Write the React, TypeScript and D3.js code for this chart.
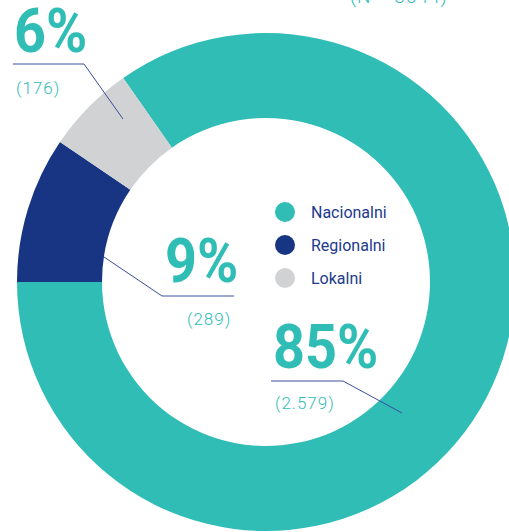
import React from "react";
import * as d3 from "d3";

const categories = ["Nacionalni", "Regionalni", "Lokalni"];
const counts = [2579, 289, 176];
const percents = ["85%", "9%", "6%"];
const countLabels = ["(2.579)", "(289)", "(176)"];
const totalLabel = "(N = 3044)";
const colors = ["#2fbdb6", "#173583", "#d1d2d4"];

const W = 509, H = 532;
const cx = 266, cy = 282, R = 249, r0 = 164;

export default function App() {
  const total = d3.sum(counts);
  const a0 = 1.5 * Math.PI - 2 * Math.PI * (counts[0] / total);
  const pie = d3.pie<number>().sort(null).startAngle(a0).endAngle(a0 + 2 * Math.PI);
  const arcs = pie(counts);
  const arc = d3.arc<d3.PieArcDatum<number>>().innerRadius(r0).outerRadius(R);

  const teal = colors[0];
  const lineColor = "#3b4ea0";
  const font = "Roboto, 'Noto Sans', sans-serif";

  const labels = [
    { i: 0, tx: 273, by: 368, cx2: 275, cyT: 409, hy: 381, hx0: 271, hx1: 343, ex: 402, ey: 413, left: false },
    { i: 1, tx: 165, by: 282, cx2: 187, cyT: 325, hy: 296, hx0: 234, hx1: 162, ex: 104, ey: 257, left: true },
    { i: 2, tx: 14, by: 52, cx2: 16, cyT: 94, hy: 64, hx0: 13, hx1: 84, ex: 123, ey: 119, left: false },
  ];

  return (
    <svg width={W} height={H} style={{ position: "absolute", left: 0, top: 0 }}>
      <rect width={W} height={H} fill="#ffffff" />
      <g transform={`translate(${cx},${cy})`}>
        {arcs.map((d, i) => (
          <path key={i} d={arc(d) || ""} fill={colors[i]} />
        ))}
      </g>
      <text x={350} y={3} fontFamily={font} fontSize={19} fontWeight={300} fill={teal} letterSpacing={1}>
        {totalLabel}
      </text>
      {labels.map((l) => (
        <g key={l.i}>
          <text
            transform={`translate(${l.tx},${l.by}) scale(0.9,1)`}
            fontFamily={font}
            fontSize={62}
            fontWeight={700}
            fill={teal}
          >
            {percents[l.i]}
          </text>
          <path d={`M${l.hx0},${l.hy}H${l.hx1}L${l.ex},${l.ey}`} fill="none" stroke={lineColor} strokeWidth={1} />
          <text x={l.cx2} y={l.cyT} fontFamily={font} fontSize={17} fontWeight={300} fill={teal} letterSpacing={1}>
            {countLabels[l.i]}
          </text>
        </g>
      ))}
      {categories.map((c, i) => (
        <g key={c} transform={`translate(285,${212 + i * 33})`}>
          <circle r={10} fill={colors[i]} />
          <text x={26} y={0} dy="0.35em" fontFamily={font} fontSize={16} fill="#1c3a8c">
            {c}
          </text>
        </g>
      ))}
    </svg>
  );
}
